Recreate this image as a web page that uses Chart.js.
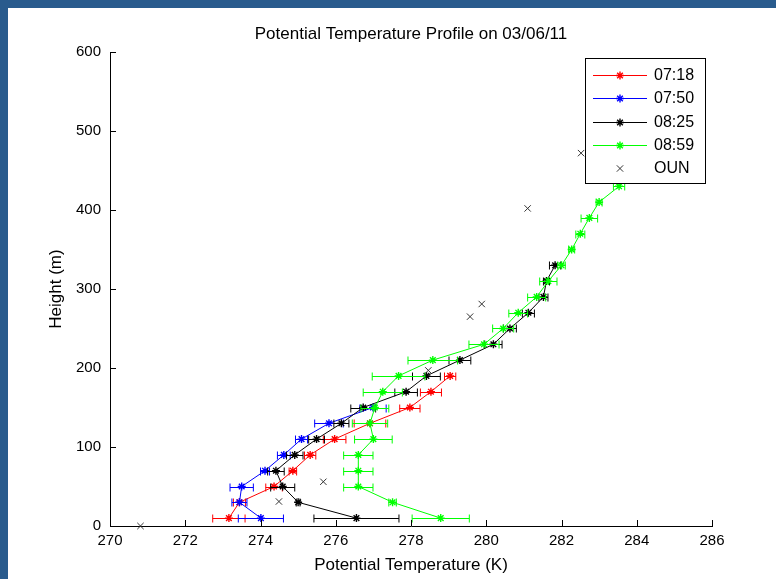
<!DOCTYPE html>
<html>
<head>
<meta charset="utf-8">
<script src="https://cdn.jsdelivr.net/npm/chart.js@4.4.0/dist/chart.umd.min.js"></script>
<style>
  html, body { margin: 0; padding: 0; background: #fff; }
  #frame { position: relative; width: 776px; height: 579px; overflow: hidden; background: #fff; }
  .band { position: absolute; background: #295b8d; }
  #wrap { position: absolute; left: 0; top: 0; width: 776px; height: 579px; }
</style>
</head>
<body>
<div id="frame">
  <div class="band" style="left:0;top:0;width:776px;height:8px"></div>
  <div class="band" style="left:0;top:0;width:8px;height:579px"></div>
  <div id="wrap"><canvas id="chart"></canvas></div>
</div>
<script>
/* Potential temperature profiles, 03/06/11 */

const TITLE = 'Potential Temperature Profile on 03/06/11';

// sounding heights (m), shared by all profiles
const HEIGHTS = [10, 30, 50, 70, 90, 110, 130, 150, 170, 190, 210, 230,
                 250, 270, 290, 310, 330, 350, 370, 390, 410, 430, 450];

const T_0718 = [273.16, 273.44, 274.36, 274.86, 275.32, 275.97, 276.91, 277.97, 278.53, 279.04];
const E_0718 = [0.43, 0.16, 0.22, 0.10, 0.15, 0.30, 0.42, 0.27, 0.28, 0.15];

const T_0750 = [274.01, 273.44, 273.50, 274.12, 274.62, 275.09, 275.82, 276.99];
const E_0750 = [0.60, 0.20, 0.31, 0.12, 0.17, 0.16, 0.38, 0.35];

const T_0825 = [276.55, 275.00, 274.59, 274.41, 274.91, 275.49, 276.15, 276.73, 277.87,
                278.41, 279.30, 280.19, 280.63, 281.12, 281.52, 281.60, 281.83];
const E_0825 = [1.13, 0.05, 0.32, 0.22, 0.22, 0.21, 0.20, 0.33, 0.30,
                0.37, 0.29, 0.23, 0.17, 0.16, 0.12, 0.08, 0.15];

const T_0859 = [278.79, 277.51, 276.60, 276.60, 276.60, 277.00, 276.91, 277.04, 277.25,
                277.67, 278.58, 279.94, 280.45, 280.85, 281.34, 281.65, 282.00, 282.27,
                282.50, 282.74, 283.00, 283.53, 283.90];
const E_0859 = [0.76, 0.10, 0.39, 0.39, 0.39, 0.50, 0.47, 0.37, 0.52,
                0.70, 0.66, 0.40, 0.28, 0.25, 0.24, 0.23, 0.10, 0.08,
                0.12, 0.22, 0.08, 0.15, 0.15];

// OUN sounding
const OUN_T = [270.81, 274.49, 275.67, 278.46, 279.57, 279.88, 281.10, 282.52];
const OUN_H = [0, 31, 56, 197, 265, 281, 402, 472];

const X_TICKS = [270, 272, 274, 276, 278, 280, 282, 284, 286];
const Y_TICKS = [0, 100, 200, 300, 400, 500, 600];

const FONT = '"Liberation Sans", Arial, Helvetica, sans-serif';
Chart.defaults.font.family = FONT;
Chart.defaults.color = '#000';

function points(temps, heights) {
  return temps.map((t, i) => ({ x: t, y: heights[i] }));
}

function profile(label, color, temps, errs, order) {
  return {
    label,
    data: points(temps, HEIGHTS),
    xErr: errs,
    showLine: true,
    borderColor: color,
    backgroundColor: color,
    borderWidth: 1,
    pointStyle: 'star',
    pointRadius: 4,
    pointBorderWidth: 1.4,
    pointHoverRadius: 4,
    tension: 0,
    clip: false,
    order,
  };
}

/* ── horizontal error bars with end caps ── */
const errorBars = {
  id: 'errorBars',
  beforeDatasetDraw(chart, args) {
    const ds = chart.data.datasets[args.index];
    if (!ds.xErr) return;
    const xs = chart.scales.x, ys = chart.scales.y;
    const ctx = chart.ctx;
    ctx.save();
    ctx.strokeStyle = ds.borderColor;
    ctx.lineWidth = 1;
    ds.data.forEach((p, i) => {
      const e = ds.xErr[i];
      const x0 = xs.getPixelForValue(p.x - e);
      const x1 = xs.getPixelForValue(p.x + e);
      const py = Math.round(ys.getPixelForValue(p.y)) + 0.5;
      ctx.beginPath();
      ctx.moveTo(x0, py); ctx.lineTo(x1, py);
      ctx.moveTo(x0, py - 4); ctx.lineTo(x0, py + 4);
      ctx.moveTo(x1, py - 4); ctx.lineTo(x1, py + 4);
      ctx.stroke();
    });
    ctx.restore();
  },
};

/* ── inward ticks, like MATLAB axes ── */
const innerTicks = {
  id: 'innerTicks',
  afterDraw(chart) {
    const { ctx, chartArea: ca } = chart;
    const xs = chart.scales.x, ys = chart.scales.y;
    ctx.save();
    ctx.strokeStyle = '#000';
    ctx.lineWidth = 1;
    ctx.beginPath();
    X_TICKS.forEach(v => {
      const px = Math.round(xs.getPixelForValue(v)) + 0.5;
      ctx.moveTo(px, ca.bottom); ctx.lineTo(px, ca.bottom - 6);
    });
    Y_TICKS.forEach(v => {
      const py = Math.round(ys.getPixelForValue(v)) + 0.5;
      ctx.moveTo(ca.left, py); ctx.lineTo(ca.left + 6, py);
    });
    ctx.stroke();
    // title
    ctx.fillStyle = '#000';
    ctx.font = '17px ' + FONT;
    ctx.textAlign = 'center';
    ctx.textBaseline = 'middle';
    ctx.fillText(TITLE, (ca.left + ca.right) / 2, 34);
    ctx.restore();
  },
};

/* ── boxed legend inside the axes ── */
const boxLegend = {
  id: 'boxLegend',
  afterDraw(chart) {
    const ctx = chart.ctx;
    const L = 585, T = 58, W = 120, H = 125, ROW = 23.3;
    ctx.save();
    ctx.fillStyle = '#fff';
    ctx.fillRect(L, T, W, H);
    ctx.strokeStyle = '#000';
    ctx.lineWidth = 1;
    ctx.strokeRect(L + 0.5, T + 0.5, W, H);
    ctx.font = '16px ' + FONT;
    ctx.textAlign = 'left';
    ctx.textBaseline = 'middle';
    chart.data.datasets.forEach((ds, i) => {
      const y = Math.round(T + 17 + i * ROW) + 0.5;
      ctx.strokeStyle = ds.borderColor;
      ctx.fillStyle = ds.borderColor;
      ctx.lineWidth = 1;
      if (ds.showLine) {
        ctx.beginPath();
        ctx.moveTo(L + 8, y); ctx.lineTo(L + 62, y);
        ctx.stroke();
      }
      ctx.lineWidth = ds.pointBorderWidth;
      Chart.helpers.drawPoint(ctx, {
        pointStyle: ds.pointStyle, radius: ds.pointRadius, rotation: 0, borderWidth: ds.pointBorderWidth,
      }, L + 35, y);
      ctx.fillStyle = '#000';
      ctx.fillText(ds.label, L + 69, y);
    });
    ctx.restore();
  },
};

new Chart(document.getElementById('chart'), {
  type: 'scatter',
  data: {
    datasets: [
      profile('07:18', '#ff0000', T_0718, E_0718, 5),
      profile('07:50', '#0000ff', T_0750, E_0750, 4),
      profile('08:25', '#000000', T_0825, E_0825, 3),
      profile('08:59', '#00ff00', T_0859, E_0859, 2),
      {
        label: 'OUN',
        data: points(OUN_T, OUN_H),
        showLine: false,
        borderColor: '#333333',
        backgroundColor: '#333333',
        pointStyle: 'crossRot',
        pointRadius: 4.5,
        pointBorderWidth: 1,
        pointHoverRadius: 4.5,
        clip: false,
        order: 1,
      },
    ],
  },
  options: {
    responsive: true,
    maintainAspectRatio: false,
    animation: false,
    events: [],
    layout: { padding: { top: 52, right: 64, bottom: 0, left: 0 } },
    plugins: {
      legend: { display: false },
      tooltip: { enabled: false },
    },
    scales: {
      x: {
        type: 'linear',
        min: 270, max: 286,
        afterBuildTicks: s => { s.ticks = X_TICKS.map(v => ({ value: v })); },
        afterFit: s => { s.height = 53; },
        grid: { drawOnChartArea: false, drawTicks: false },
        border: { display: true, color: '#000', width: 1 },
        ticks: { autoSkip: false, maxRotation: 0, padding: 6, font: { size: 15 }, color: '#000' },
        title: { display: true, text: 'Potential Temperature (K)', font: { size: 17 }, color: '#000', padding: { bottom: 3, top: 0 } },
      },
      y: {
        type: 'linear',
        min: 0, max: 600,
        afterBuildTicks: s => { s.ticks = Y_TICKS.map(v => ({ value: v })); },
        afterFit: s => { s.width = 110; },
        grid: { drawOnChartArea: false, drawTicks: false },
        border: { display: true, color: '#000', width: 1 },
        ticks: { autoSkip: false, padding: 9, font: { size: 15 }, color: '#000' },
        title: { display: true, text: 'Height (m)', font: { size: 17 }, color: '#000', padding: { top: 46, bottom: 0 } },
      },
    },
  },
  plugins: [errorBars, innerTicks, boxLegend],
});
</script>
</body>
</html>
